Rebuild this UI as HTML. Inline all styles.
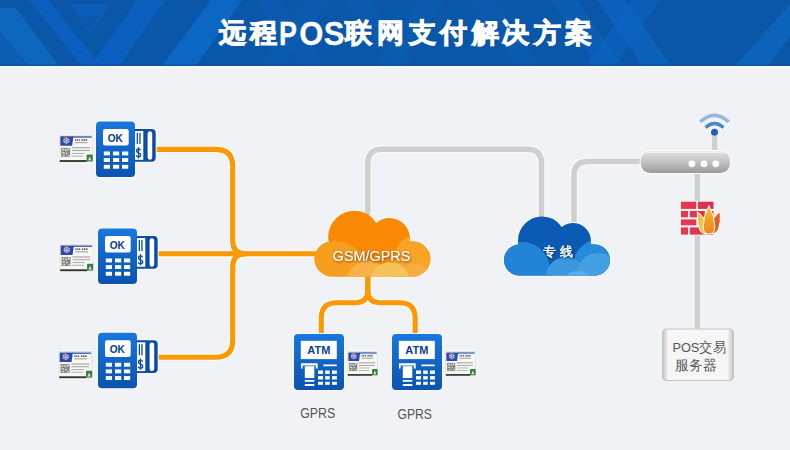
<!DOCTYPE html>
<html><head><meta charset="utf-8">
<style>
html,body{margin:0;padding:0;width:790px;height:450px;overflow:hidden;background:#f1f2f5;font-family:"Liberation Sans",sans-serif;}
svg{display:block;position:absolute;left:0;top:0;}
.t{font-family:"Liberation Sans",sans-serif;}
</style></head>
<body>
<svg width="790" height="450" viewBox="0 0 790 450">
<defs>
  <linearGradient id="posg" x1="0" y1="0" x2="0" y2="1">
    <stop offset="0" stop-color="#1877de"/><stop offset="1" stop-color="#0b53ae"/>
  </linearGradient>
  <linearGradient id="routerg" x1="0" y1="0" x2="0" y2="1">
    <stop offset="0" stop-color="#f0f0f0"/><stop offset="0.14" stop-color="#dadada"/><stop offset="0.5" stop-color="#c2c2c2"/><stop offset="0.88" stop-color="#a4a4a4"/><stop offset="1" stop-color="#9a9a9a"/>
  </linearGradient>
  <linearGradient id="srvg" x1="0" y1="0" x2="1" y2="0">
    <stop offset="0" stop-color="#bcbcbc"/><stop offset="0.09" stop-color="#f6f6f6"/><stop offset="0.91" stop-color="#f6f6f6"/><stop offset="1" stop-color="#bcbcbc"/>
  </linearGradient>
  <clipPath id="ocl">
    <circle cx="354.2" cy="236.8" r="26"/><circle cx="389.5" cy="238.5" r="20.5"/>
    <rect x="314.5" y="241.5" width="116" height="35" rx="17.5"/>
  </clipPath>
  <clipPath id="bcl">
    <circle cx="542" cy="240.5" r="24"/><circle cx="573" cy="241" r="18"/>
    <rect x="504" y="244.5" width="106" height="31" rx="15.5"/>
  </clipPath>
<g id="pos">
  <g fill="#fff" stroke="#fcfcfd" stroke-width="2"><rect x="30" y="7.5" width="29.7" height="32.8" rx="4"/><rect x="0" y="0" width="39" height="55.5" rx="4"/></g>
  <rect x="30" y="7.5" width="29.7" height="32.8" rx="4" fill="#0b4ca8"/>
  <rect x="38.9" y="9.5" width="8.4" height="28.8" fill="#fff"/>
  <rect x="51.6" y="9.7" width="4.6" height="28.6" rx="2.3" fill="#fff"/>
  <path d="M41.35,11.5 V22.5 M43.95,11.5 V22.5" stroke="#0b4ca8" stroke-width="1.3"/>
  <path d="M44.5,28.7 Q44,27.3 42.5,27.3 Q40.5,27.3 40.5,29.3 Q40.5,30.9 42.5,31.3 Q44.7,31.8 44.7,33.6 Q44.7,35.4 42.5,35.4 Q40.7,35.4 40.2,33.9 M42.5,25.7 V37" stroke="#0b4ca8" stroke-width="1.35" fill="none"/>
  <rect x="0" y="0" width="39" height="55.5" rx="4" fill="url(#posg)"/>
  <rect x="7" y="7.5" width="25.7" height="16.6" rx="2" fill="#fff"/>
  <text x="19.3" y="20.2" text-anchor="middle" class="t" font-size="10" font-weight="bold" fill="#0c3f91" stroke="#0c3f91" stroke-width="0.1">OK</text>
  <g fill="#fff">
    <rect x="7.8" y="30" width="6.2" height="3.9"/><rect x="17" y="30" width="6.2" height="3.9"/><rect x="26" y="30" width="6.2" height="3.9"/>
    <rect x="7.8" y="36.6" width="6.2" height="3.9"/><rect x="17" y="36.6" width="6.2" height="3.9"/><rect x="26" y="36.6" width="6.2" height="3.9"/>
    <rect x="7.8" y="43.3" width="6.2" height="3.9"/><rect x="17" y="43.3" width="6.2" height="3.9"/><rect x="26" y="43.3" width="6.2" height="3.9"/>
  </g>
</g>
<g id="chip">
  <rect x="0" y="0" width="34" height="27" fill="#fff" stroke="#fafafb" stroke-width="1.6"/>
  <rect x="0" y="0" width="34" height="27" fill="#dfe2d8"/>
  <rect x="1" y="1" width="32" height="24.5" fill="#f7f8f5"/>
  <polygon points="1.5,1.5 14.5,1.5 13.2,10.8 1.5,10.8" fill="#2c48a8"/>
  <rect x="14" y="1.5" width="18.5" height="1.3" fill="#3550ad"/>
  <path d="M5,4.3 l2.5,-1.3 l2.5,1.3 v2.8 l-2.5,1.3 l-2.5,-1.3 z M7.5,3 v5.4 M5,4.3 l5,2.8 M10,4.3 l-5,2.8" stroke="#dfe6f6" stroke-width="0.7" fill="none"/>
  <circle cx="6" cy="3.3" r="1.1" fill="#f26b2a"/>
  <g fill="#5a5a5a"><rect x="16" y="4.3" width="1.2" height="1.6"/><rect x="17.8" y="4.3" width="1.2" height="1.6"/><rect x="19.6" y="4.3" width="1.2" height="1.6"/><rect x="22.4" y="4.3" width="1.5" height="1.6"/><rect x="24.5" y="4.3" width="1.5" height="1.6"/><rect x="26.6" y="4.3" width="1.5" height="1.6"/></g>
  <rect x="16" y="7.2" width="12.5" height="1" fill="#9a9a9a"/>
  <rect x="2.3" y="12.8" width="9" height="8.8" fill="#8a8a8a"/>
  <g fill="#f2f2f2"><rect x="3.3" y="13.8" width="1.6" height="1.4"/><rect x="6.2" y="14.2" width="1.2" height="2"/><rect x="8.6" y="13.6" width="1.7" height="1.5"/><rect x="3.6" y="17" width="2.2" height="1.1"/><rect x="7.2" y="17.6" width="1.4" height="1.6"/><rect x="4.2" y="19.6" width="1.5" height="1.2"/><rect x="9" y="19.8" width="1.5" height="1.1"/></g>
  <g fill="#555"><rect x="2.8" y="13.2" width="0.8" height="0.8"/><rect x="5.5" y="16" width="0.9" height="0.9"/><rect x="8" y="18.5" width="0.9" height="0.9"/><rect x="9.8" y="15.8" width="0.8" height="0.8"/></g>
  <rect x="13" y="12.3" width="18" height="0.9" fill="#8a8a8a"/>
  <rect x="13" y="15" width="17.5" height="0.9" fill="#999"/>
  <rect x="13" y="17.8" width="12.5" height="0.9" fill="#a5a5a5"/>
  <rect x="13" y="20.4" width="11.5" height="0.9" fill="#aaa"/>
  <rect x="27.6" y="19.4" width="6" height="6.6" fill="#2f7f42"/>
  <path d="M29,24.9 l1.6,-3.8 l1.6,3.8 z" fill="#e8e2d0"/>
  <rect x="1" y="24.8" width="26.6" height="1.8" fill="#2a392a"/>
</g>
<g id="atm">
  <rect x="0" y="0" width="50" height="56" rx="4" fill="#fff" stroke="#fcfcfd" stroke-width="2"/>
  <rect x="0" y="0" width="50" height="56" rx="4" fill="url(#posg)"/>
  <rect x="6.8" y="6.8" width="36" height="18.3" fill="#fff"/>
  <text x="24.8" y="19.8" text-anchor="middle" class="t" font-size="11" font-weight="bold" fill="#0c3f91">ATM</text>
  <g fill="#fff">
    <path d="M7,29.3 H23.7 V34.6 H21.8 V31.6 H8.6 V34.6 H7 Z"/>
    <rect x="10.8" y="32.2" width="9.5" height="11.8"/>
    <rect x="10.8" y="45.9" width="9.5" height="1.9"/>
    <rect x="10.8" y="50" width="9.5" height="2"/>
    <rect x="29.3" y="30.4" width="13.6" height="1.9" rx="0.9"/>
    <rect x="24" y="36.5" width="5" height="3.4"/><rect x="31.2" y="36.5" width="4.5" height="3.4"/><rect x="38" y="36.5" width="4.9" height="3.4"/>
    <rect x="24" y="42.1" width="5" height="3.4"/><rect x="31.2" y="42.1" width="4.5" height="3.4"/><rect x="38" y="42.1" width="4.9" height="3.4"/>
    <rect x="24" y="47.8" width="5" height="3"/><rect x="31.2" y="47.8" width="4.5" height="3"/><rect x="38" y="47.8" width="4.9" height="3"/>
  </g>
</g>


  <filter id="tso" x="-20%" y="-50%" width="140%" height="200%"><feDropShadow dx="0.6" dy="0.9" stdDeviation="0.9" flood-color="#6a3000" flood-opacity="0.9"/></filter>
  <filter id="tsb" x="-20%" y="-50%" width="140%" height="200%"><feDropShadow dx="0.6" dy="0.9" stdDeviation="0.9" flood-color="#001a40" flood-opacity="0.85"/></filter>
</defs>

<!-- header -->
<rect x="0" y="0" width="790" height="66" fill="#0a56a8"/>
<g>
  <polygon points="0,8 16,8 59,66 29,66 0,32" fill="#0d68bd"/>
  <polygon points="0,32 29,66 0,66" fill="#0b5eb2"/>
  <polygon points="29,0 48,0 101,66 82,66" fill="#0b5fbf"/>
  <polygon points="137,0 165,0 119,66 91,66" fill="#0b5fbf"/>
  <polygon points="70,4 110,4 90,34" fill="#0c62bb" opacity="0.75"/>
  <polygon points="80,16 100,16 90,31" fill="#0a56a8" opacity="0.8"/>
  <polygon points="211,0 242,0 196,66 162,66" fill="#0c66c4"/>
  <polygon points="255,0 280,0 326,66 301,66" fill="#0c5fb5" opacity="0.55"/>
  <polygon points="305,0 330,0 284,66 259,66" fill="#0c5fb5" opacity="0.45"/>
  <polygon points="345,0 370,0 416,66 391,66" fill="#0c5fb5" opacity="0.45"/>
  <polygon points="420,0 445,0 399,66 374,66" fill="#0c5fb5" opacity="0.45"/>
  <polygon points="470,0 495,0 541,66 516,66" fill="#0c5fb5" opacity="0.45"/>
  <polygon points="551,0 577,0 623,66 597,66" fill="#0c62bb" opacity="0.6"/>
  <polygon points="597,0 625,0 671,66 643,66" fill="#0d66c2" opacity="0.7"/>
  <polygon points="632,0 660,0 614,66 586,66" fill="#0d66c2" opacity="0.55"/>
  <polygon points="790,4 790,36 768,66 735,66" fill="#0e6dc7" opacity="0.6"/>
</g>
<rect x="0" y="64.6" width="790" height="1.4" fill="#0a4d9e" opacity="0.8"/>
<rect x="0" y="66" width="790" height="1.8" fill="#fbfcfe"/>
<g class="t" fill="#fff" stroke="#fff" stroke-width="1" font-weight="bold" text-anchor="middle">
<text x="232.5" y="42.2" font-size="27">远</text>
<text x="263.9" y="42.2" font-size="27">程</text>
<text transform="translate(288,44.9) scale(0.79,1)" font-size="34" stroke-width="0.3">P</text>
<text transform="translate(311.4,44.9) scale(0.91,1)" font-size="34" stroke-width="0.3">O</text>
<text transform="translate(334.1,44.9) scale(0.91,1)" font-size="34" stroke-width="0.3">S</text>
<text x="358.7" y="42.2" font-size="27">联</text>
<text x="390.35" y="42.2" font-size="27">网</text>
<text x="422.7" y="42.2" font-size="27">支</text>
<text x="453.75" y="42.2" font-size="27">付</text>
<text x="485.35" y="42.2" font-size="27">解</text>
<text x="515.75" y="42.2" font-size="27">决</text>
<text x="547.4" y="42.2" font-size="27">方</text>
<text x="578.5" y="42.2" font-size="27">案</text>
</g>

<g fill="#fbfbfc" stroke="#fbfbfc" stroke-width="2.2">
  <circle cx="354.2" cy="236.8" r="26"/><circle cx="389.5" cy="238.5" r="20.5"/>
  <rect x="314.5" y="241.5" width="116" height="35" rx="18"/>
</g>
<g fill="#fbfbfc" stroke="#fbfbfc" stroke-width="2.2">
  <circle cx="542" cy="240.5" r="24"/><circle cx="573" cy="241" r="18"/>
  <rect x="504" y="244.5" width="106" height="31" rx="15.5"/>
</g>
<!-- gray network lines -->
<g fill="none" stroke="#f8f9fb" stroke-width="8">
  <path d="M367.8,215 V163.5 Q367.8,149.2 382,149.2 H527.3 Q541.5,149.2 541.5,163.5 V220"/>
  <path d="M574,222 V175.5 Q574,161.5 588,161.5 H645"/>
  <path d="M714.6,136 V152"/>
  <path d="M697.4,172 V330"/>
</g>
<g fill="none" stroke="#cfcfcf" stroke-width="5.6">
  <path d="M367.8,215 V163.5 Q367.8,149.2 382,149.2 H527.3 Q541.5,149.2 541.5,163.5 V220"/>
  <path d="M574,222 V175.5 Q574,161.5 588,161.5 H645"/>
  <path d="M714.6,136 V152"/>
  <path d="M697.4,172 V330"/>
</g>
<!-- orange lines -->
<g fill="none" stroke="#f8fcfe" stroke-width="7.4" stroke-linejoin="round">
  <path d="M150,149.4 H215.7 Q232.7,149.4 232.7,166.4 V240.8 Q232.7,253.8 245.7,253.8"/>
  <path d="M150,357.3 H215.7 Q232.7,357.3 232.7,340.3 V266.8 Q232.7,253.8 245.7,253.8"/>
  <path d="M150,253.8 H322"/>
  <path d="M367.8,268 V290.2 Q367.8,302.7 355.3,302.7 H336.8 Q321.3,302.7 321.3,318.2 V337"/>
  <path d="M367.8,268 V290.2 Q367.8,302.7 380.3,302.7 H399.7 Q415.2,302.7 415.2,318.2 V337"/>
</g>
<g fill="none" stroke="#fc9802" stroke-width="5.1" stroke-linejoin="round">
  <path d="M150,149.4 H215.7 Q232.7,149.4 232.7,166.4 V240.8 Q232.7,253.8 245.7,253.8"/>
  <path d="M150,357.3 H215.7 Q232.7,357.3 232.7,340.3 V266.8 Q232.7,253.8 245.7,253.8"/>
  <path d="M150,253.8 H322"/>
  <path d="M367.8,268 V290.2 Q367.8,302.7 355.3,302.7 H336.8 Q321.3,302.7 321.3,318.2 V337"/>
  <path d="M367.8,268 V290.2 Q367.8,302.7 380.3,302.7 H399.7 Q415.2,302.7 415.2,318.2 V337"/>
</g>
<!-- orange cloud -->
<g clip-path="url(#ocl)">
  <rect x="300" y="200" width="140" height="90" fill="#fa8a06"/>
  <circle cx="336" cy="271" r="30" fill="#f89e1e"/>
  <circle cx="424" cy="264" r="32" fill="#f8a428"/>
  <circle cx="368" cy="283" r="22" fill="#f6b247"/>
  <circle cx="414" cy="283" r="19" fill="#f5ae40"/>
  <circle cx="390" cy="281" r="19" fill="#f7c259"/>
  <circle cx="425" cy="292" r="16" fill="#f7a02a"/>
</g>
<text x="371.5" y="260.5" text-anchor="middle" class="t" font-size="14.4" fill="#fff" filter="url(#tso)">GSM/GPRS</text>

<!-- blue cloud -->
<g clip-path="url(#bcl)">
  <rect x="490" y="200" width="140" height="90" fill="#0b5bb5"/>
  <circle cx="522" cy="270" r="28" fill="#2284d7"/>
  <circle cx="600" cy="266" r="27" fill="#268bdb"/>
  <circle cx="566" cy="277" r="20" fill="#3d97df"/>
  <circle cx="598" cy="274" r="21" fill="#45a0e3"/>
  <circle cx="578" cy="288" r="17" fill="#5aade9"/>
  <circle cx="548" cy="292" r="17" fill="#3490dc"/>
</g>
<text x="559.5" y="255.6" text-anchor="middle" class="t" font-size="13" fill="#fff" stroke="#fff" stroke-width="0.35" letter-spacing="4" filter="url(#tsb)">专线</text>

<!-- POS terminals -->
<use href="#pos" x="96" y="121.5"/>
<use href="#pos" x="98" y="228.5"/>
<use href="#pos" x="98" y="332.8"/>

<!-- chips -->
<g transform="translate(58.8,134.8) scale(1.01,1.02)"><use href="#chip"/></g>
<g transform="translate(59.2,244) scale(1.01,1.02)"><use href="#chip"/></g>
<g transform="translate(58.2,351) scale(1.01,1.02)"><use href="#chip"/></g>

<!-- ATMs -->
<use href="#atm" x="294" y="334"/>
<use href="#atm" x="392" y="334"/>
<g transform="translate(347,351) scale(0.91,0.93)"><use href="#chip"/></g>
<g transform="translate(445,351) scale(0.91,0.93)"><use href="#chip"/></g>

<text x="300.2" y="417.8" class="t" font-size="14" fill="#555" textLength="35" lengthAdjust="spacingAndGlyphs">GPRS</text>
<text x="397.5" y="419.4" class="t" font-size="14" fill="#555" textLength="34.5" lengthAdjust="spacingAndGlyphs">GPRS</text>

<!-- router -->
<rect x="640.7" y="151" width="89.3" height="22" rx="9.5" fill="#fff" stroke="#fcfcfd" stroke-width="2"/>
<rect x="640.7" y="151" width="89.3" height="22" rx="9.5" fill="url(#routerg)"/>
<path d="M648,152.6 H722" stroke="#f4f4f4" stroke-width="1" opacity="0.6"/>
<circle cx="691.9" cy="163.8" r="3.4" fill="#fff"/>
<circle cx="704" cy="163.8" r="3.4" fill="#fff"/>
<circle cx="715.8" cy="163.8" r="3.4" fill="#fff"/>
<!-- wifi -->
<circle cx="714.5" cy="132.3" r="3.5" fill="#1f63b3"/>
<path d="M705.5,127.5 Q714.5,119.5 723.5,127.5" stroke="#4a86c8" stroke-width="3.2" fill="none"/>
<path d="M700.3,121.8 Q714.5,109 728.7,121.8" stroke="#93b8df" stroke-width="3.6" fill="none"/>

<!-- firewall -->
<defs>
  <linearGradient id="brick" x1="0" y1="0" x2="1" y2="0" gradientUnits="userSpaceOnUse" gradientTransform="translate(681,0) scale(33,1)">
    <stop offset="0" stop-color="#ea3a50"/><stop offset="1" stop-color="#d82c52"/>
  </linearGradient>
  <linearGradient id="flc" x1="0" y1="0" x2="0" y2="1">
    <stop offset="0" stop-color="#f8c62a"/><stop offset="0.55" stop-color="#f39a24"/><stop offset="1" stop-color="#ef8426"/>
  </linearGradient>
</defs>
<rect x="680" y="201" width="35" height="34.5" fill="#f7f3f4"/>
<g fill="url(#brick)">
  <rect x="681" y="201.7" width="15.2" height="7.2"/><rect x="697.9" y="201.7" width="15.6" height="7.2"/>
  <rect x="681" y="211" width="7" height="6.3"/><rect x="689.8" y="211" width="15" height="6.3"/><rect x="706.6" y="211" width="6.9" height="6.3"/>
  <rect x="681" y="219.4" width="15.2" height="5.9"/><rect x="697.9" y="219.4" width="15.6" height="5.9"/>
  <rect x="681" y="227.4" width="7" height="7.2"/><rect x="689.8" y="227.4" width="15" height="7.2"/><rect x="706.6" y="227.4" width="6.9" height="7.2"/>
</g>
<g stroke="#fff" stroke-width="1" stroke-linejoin="round">
  <path d="M697.2,211.8 Q702.5,215 704.5,220 L705.5,233.8 Q701.5,233.8 699.8,230 Q697,222 697.2,211.8 Z" fill="#f9bf3c"/>
  <path d="M720.3,211.8 Q715.5,214.5 712.5,220 L712,233.8 Q716.8,233.5 718.6,229 Q721,222 720.3,211.8 Z" fill="#e65e20"/>
  <path d="M708.9,205.5 Q703.2,216 703.2,227 Q703.2,234 709,234 Q714.8,234 714.8,227 Q714.8,216 708.9,205.5 Z" fill="url(#flc)"/>
</g>

<!-- server -->
<rect x="662" y="328.5" width="72" height="52.5" rx="4.5" fill="url(#srvg)"/>
<rect x="662.5" y="329" width="71" height="51.5" rx="4.5" fill="none" stroke="#c4c4c4" stroke-width="1"/>
<text x="672.4" y="352.3" class="t" font-size="13.5" fill="#555" textLength="53.5" lengthAdjust="spacingAndGlyphs">POS交易</text>
<text x="675.3" y="370.3" class="t" font-size="13.5" fill="#555" textLength="41.5" lengthAdjust="spacingAndGlyphs">服务器</text>
</svg>
</body></html>
